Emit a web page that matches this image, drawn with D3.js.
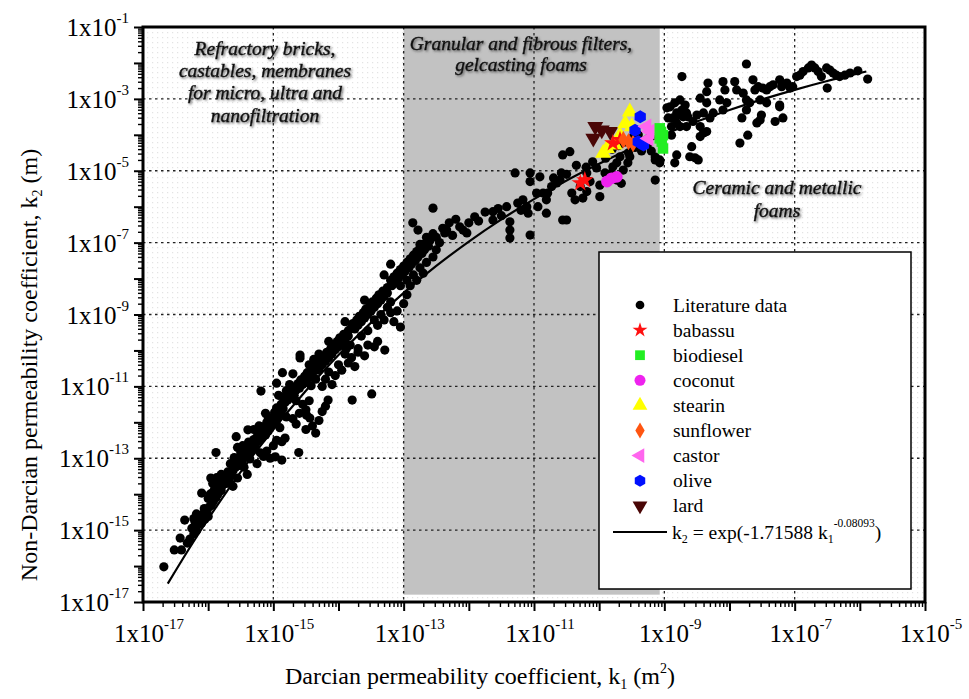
<!DOCTYPE html>
<html><head><meta charset="utf-8">
<script src="https://cdn.jsdelivr.net/npm/d3@7"></script>
<style>html,body{margin:0;padding:0;background:#fff;} svg{display:block;} svg text{font-family:"Liberation Serif","Times New Roman",serif;}</style>
</head><body><svg id="c" width="969" height="699"></svg>
<script>
// ---------- DATA (log10 values) ----------
const xTickExps = [-17,-15,-13,-11,-9,-7,-5];
const yTickExps = [-17,-15,-13,-11,-9,-7,-5,-3,-1];
const grayK1 = [1e-13, 8.5e-10];
const grayK2 = [1.6e-17, 1e-1];

const literatureLog = [
[-16.68,-16.02],[-16.52,-15.55],[-16.41,-15.55],[-16.43,-15.22],[-16.32,-15.36],[-16.36,-14.72],[-16.10,-13.97],[-15.88,-12.84],[-15.87,-13.54],
[-15.57,-12.40],[-15.39,-12.21],[-15.22,-12.10],[-15.19,-11.13],[-14.95,-10.91],[-14.86,-10.62],[-14.70,-10.65],[-14.59,-10.13],[-14.59,-10.21],
[-14.87,-12.54],[-14.82,-12.44],[-14.61,-12.84],[-14.97,-12.96],[-14.87,-13.05],[-14.16,-11.38],[-13.79,-11.38],[-13.49,-11.21],[-13.29,-9.99],
[-14.49,-11.80],[-14.44,-11.88],
[-16.28,-15.25],[-16.22,-15.10],[-16.25,-14.95],[-16.18,-15.02],[-16.15,-14.85],[-16.20,-14.78],[-16.10,-14.80],[-16.12,-14.65],[-16.05,-14.70],
[-16.08,-14.55],[-16.02,-14.48],[-16.15,-14.60],[-16.00,-14.62],[-16.06,-14.40],[-15.98,-14.35],[-16.18,-14.55],[-16.22,-14.68],
[-15.95,-14.30],[-15.92,-14.20],[-16.00,-14.12],[-15.88,-14.10],[-15.85,-14.00],[-15.93,-13.95],[-15.80,-13.90],[-15.88,-13.82],[-15.78,-13.75],
[-15.83,-13.65],[-15.72,-13.70],[-15.75,-13.55],[-15.68,-13.60],[-15.80,-13.45],[-15.65,-13.48],[-15.70,-13.38],[-15.90,-13.85],[-15.62,-13.78],
[-15.97,-14.00],[-15.93,-13.70],[-15.96,-13.55],
[-15.62,-13.35],[-15.58,-13.25],[-15.66,-13.15],[-15.52,-13.20],[-15.55,-13.05],[-15.48,-13.10],[-15.60,-12.98],[-15.45,-12.95],[-15.50,-12.85],
[-15.40,-12.90],[-15.42,-12.75],[-15.35,-12.80],[-15.47,-12.65],[-15.32,-12.62],[-15.38,-12.55],[-15.28,-12.70],[-15.55,-12.70],[-15.30,-12.48],
[-15.25,-12.55],[-15.36,-13.02],[-15.45,-13.25],[-15.10,-12.80],[-15.00,-12.65],[-14.95,-12.50],[-15.15,-12.95],
[-15.25,-12.40],[-15.18,-12.45],[-15.22,-12.30],[-15.12,-12.35],[-15.15,-12.20],[-15.08,-12.25],[-15.20,-12.12],[-15.05,-12.10],[-15.10,-12.00],
[-15.00,-12.05],[-15.02,-11.92],[-14.95,-11.95],[-15.08,-11.85],[-14.92,-11.80],[-14.98,-11.72],[-14.88,-11.70],[-14.95,-11.60],[-14.85,-11.62],
[-15.12,-11.75],[-14.80,-11.85],[-14.90,-12.15],[-15.30,-12.20],[-14.70,-11.90],[-14.60,-11.75],[-14.50,-11.65],[-14.65,-12.05],[-14.55,-11.50],[-14.45,-11.40],
[-14.88,-11.50],[-14.82,-11.45],[-14.78,-11.38],[-14.85,-11.30],[-14.72,-11.32],[-14.75,-11.20],[-14.68,-11.25],[-14.80,-11.12],[-14.65,-11.10],
[-14.70,-11.02],[-14.60,-11.05],[-14.62,-10.92],[-14.55,-10.95],[-14.58,-10.82],[-14.50,-10.85],[-14.52,-10.72],[-14.45,-10.75],[-14.48,-10.62],
[-14.40,-10.65],[-14.75,-10.95],[-14.42,-10.98],[-14.35,-10.80],[-14.65,-11.40],[-14.92,-11.25],
[-14.40,-10.50],[-14.35,-10.45],[-14.30,-10.55],[-14.32,-10.35],[-14.25,-10.40],[-14.28,-10.25],[-14.20,-10.30],[-14.22,-10.15],[-14.15,-10.20],
[-14.18,-10.05],[-14.10,-10.10],[-14.12,-9.95],[-14.05,-9.98],[-14.08,-9.85],[-14.00,-9.90],[-14.02,-9.75],[-13.95,-9.80],[-13.98,-9.65],
[-13.90,-9.70],[-13.92,-9.55],[-13.85,-9.60],[-14.30,-10.10],[-14.15,-9.75],[-13.88,-9.95],[-14.38,-10.25],[-14.45,-10.40],[-13.82,-9.85],
[-14.20,-10.80],[-14.05,-10.70],[-13.95,-10.55],[-14.10,-10.95],[-13.85,-10.35],[-13.80,-10.20],[-13.75,-10.45],[-14.00,-10.40],[-13.90,-10.10],
[-13.70,-10.05],[-14.25,-11.00],[-14.15,-10.60],[-13.70,-9.95],[-13.55,-9.85],[-13.45,-9.90],[-13.60,-10.15],[-13.40,-9.75],
[-13.85,-9.45],[-13.80,-9.35],[-13.75,-9.40],[-13.78,-9.25],[-13.70,-9.30],[-13.72,-9.15],[-13.65,-9.20],[-13.68,-9.05],[-13.60,-9.10],
[-13.62,-8.95],[-13.55,-9.00],[-13.58,-8.85],[-13.50,-8.90],[-13.52,-8.75],[-13.45,-8.80],[-13.48,-8.65],[-13.40,-8.70],[-13.42,-8.55],
[-13.35,-8.60],[-13.38,-8.45],[-13.30,-8.50],[-13.32,-8.35],[-13.25,-8.40],[-13.45,-9.15],[-13.35,-9.00],[-13.25,-8.80],[-13.20,-8.65],
[-13.60,-8.60],[-13.90,-9.20],[-13.10,-8.90],[-13.00,-8.70],[-12.95,-8.45],[-13.15,-9.20],[-13.05,-9.35],
[-13.25,-8.25],[-13.18,-8.20],[-13.20,-8.05],[-13.12,-8.10],[-13.15,-7.95],[-13.08,-8.00],[-13.10,-7.85],[-13.02,-7.90],[-13.05,-7.75],
[-12.98,-7.80],[-13.00,-7.65],[-12.92,-7.70],[-12.95,-7.55],[-12.88,-7.60],[-12.90,-7.45],[-12.82,-7.50],[-12.85,-7.35],[-12.78,-7.40],
[-12.80,-7.25],[-12.72,-7.30],[-12.75,-7.15],[-12.68,-7.20],[-12.70,-7.05],[-12.62,-7.10],[-13.05,-8.20],[-12.95,-8.05],[-12.85,-7.90],
[-12.75,-7.70],[-12.65,-7.55],[-13.30,-7.90],[-13.20,-7.60],
[-14.40,-12.10],[-14.30,-11.95],[-14.25,-11.70],[-14.35,-12.30],[-14.20,-11.55],[-14.50,-12.20],
[-15.20,-12.85],[-15.05,-13.00],[-15.25,-13.15],[-15.40,-13.45],[-15.55,-13.55],
[-13.65,-9.60],[-13.55,-9.45],[-13.40,-9.30],[-13.30,-9.15],[-13.20,-8.95],
[-12.90,-8.20],[-12.80,-8.05],[-12.70,-7.85],[-12.55,-7.40],[-12.50,-7.20],
[-12.78,-6.65],[-12.86,-6.45],[-12.55,-6.04],[-12.37,-6.73],[-12.34,-6.65],[-12.14,-6.56],[-12.09,-6.65],[-12.03,-6.73],[-11.91,-6.28],
[-11.63,-6.14],[-11.63,-6.37],[-11.42,-6.00],[-11.37,-6.42],[-11.37,-6.65],[-11.37,-6.87],[-11.17,-5.81],[-11.09,-6.18],[-11.11,-6.00],
[-11.06,-6.79],[-11.29,-5.06],[-11.06,-5.06],[-11.06,-5.30],[-10.91,-5.17],[-10.96,-5.62],[-10.86,-5.62],[-10.94,-6.00],[-10.81,-6.18],
[-10.79,-5.62],[-10.73,-5.44],[-10.65,-5.34],[-10.60,-5.26],[-10.81,-5.81],[-10.58,-5.06],[-10.56,-6.37],[-10.50,-6.37],[-10.56,-4.56],
[-10.45,-4.47],[-10.42,-5.62],[-10.37,-5.81],[-10.29,-5.44],[-10.19,-5.06],[-10.14,-5.30],[-10.19,-5.58],[-10.25,-5.76],[-10.04,-4.92],
[-9.99,-5.40],[-9.99,-5.72],[-9.91,-5.06],[-9.81,-5.06],[-9.79,-4.89],[-9.73,-4.78],[-9.68,-4.61],[-9.63,-4.98],[-9.56,-4.78],[-9.53,-4.61],
[-9.73,-5.26],[-9.66,-5.35],[-9.14,-4.70],[-9.14,-5.26],[-9.33,-4.23],[-9.27,-4.14],[-9.22,-4.05],
[-12.75,-7.05],[-12.60,-6.95],[-12.50,-6.85],[-12.45,-7.00],[-12.55,-6.75],[-12.65,-6.85],[-12.40,-6.60],[-12.30,-6.45],[-12.20,-6.35],
[-12.25,-6.80],[-12.00,-6.45],[-11.85,-6.40],[-11.75,-6.15],[-11.55,-6.05],[-11.50,-6.25],[-11.25,-5.90],[-11.20,-6.10],
[-9.80,-4.40],[-9.70,-4.30],[-9.60,-4.20],[-9.50,-4.10],[-9.40,-4.00],[-9.45,-4.35],[-9.35,-4.45],[-9.55,-4.50],[-9.25,-4.25],[-9.20,-4.45],
[-10.10,-4.75],[-10.20,-4.90],[-10.35,-4.85],[-10.50,-5.10],[-10.70,-5.20],[-9.90,-4.65],
[-8.73,-2.38],[-7.74,-2.03],[-8.91,-3.22],[-8.84,-3.11],[-8.76,-3.03],[-8.68,-3.17],[-8.73,-3.31],[-8.81,-3.39],[-8.71,-3.50],[-8.87,-3.53],
[-8.66,-3.39],[-8.96,-3.25],[-8.89,-3.77],[-8.76,-3.77],[-8.66,-3.77],[-8.81,-3.67],[-8.45,-2.98],[-8.35,-2.80],[-8.33,-2.56],[-8.35,-3.11],
[-8.10,-2.52],[-8.07,-2.75],[-7.92,-2.52],[-7.89,-2.75],[-8.15,-3.03],[-8.04,-3.11],[-8.10,-3.31],[-7.79,-2.84],[-7.74,-3.03],[-7.69,-3.11],
[-7.64,-2.47],[-7.61,-2.75],[-7.56,-2.66],[-7.49,-2.70],[-7.43,-2.75],[-7.38,-2.66],[-7.33,-2.61],[-7.23,-2.47],[-7.20,-2.66],[-7.12,-2.56],
[-7.07,-2.70],[-7.03,-2.66],[-7.53,-3.03],[-7.43,-3.11],[-7.23,-3.22],[-6.97,-2.38],[-6.92,-2.34],[-6.87,-2.24],[-6.79,-2.14],[-6.74,-2.06],
[-6.69,-2.14],[-6.64,-2.24],[-6.59,-2.38],[-6.51,-2.14],[-6.46,-2.20],[-6.41,-2.28],[-6.36,-2.34],[-6.31,-2.38],[-6.23,-2.34],[-6.15,-2.28],
[-6.03,-2.22],[-5.88,-2.45],[-6.50,-2.70],[-8.50,-3.45],[-8.40,-3.39],[-8.45,-3.77],[-8.30,-3.53],[-8.25,-3.39],[-8.40,-3.95],[-8.45,-4.05],
[-8.35,-3.91],[-7.74,-3.31],[-7.81,-3.53],[-7.51,-3.45],[-7.53,-3.59],[-7.58,-3.67],[-7.30,-3.63],[-7.18,-3.53],[-7.23,-3.17],[-7.84,-4.23],
[-7.72,-4.01],[-8.58,-4.33],[-8.61,-4.61],[-8.53,-4.64],[-8.48,-4.70],[-8.81,-4.56],[-8.84,-4.78],[-9.07,-4.78],[-8.89,-4.01],
[-8.76,-3.45],[-8.94,-3.53],[-8.56,-3.63],[-8.64,-3.50],[-9.14,-4.62],[-9.07,-4.70]
];

const babassuLog   = [[-9.68,-4.14],[-9.79,-4.23],[-10.22,-5.26],[-10.29,-5.34]];
const biodieselLog = [[-9.07,-3.82],[-9.02,-4.01],[-9.04,-4.19],[-9.02,-4.38],[-9.07,-4.10],[-9.05,-3.92]];
const coconutLog   = [[-9.88,-5.30],[-9.81,-5.21],[-9.73,-5.17]];
const stearinLog   = [[-9.53,-3.36],[-9.60,-3.68],[-9.50,-3.77],[-9.68,-4.01],[-9.76,-4.28],[-9.88,-4.38],[-9.94,-4.51]];
const sunflowerLog = [[-9.55,-4.19],[-9.48,-4.24],[-9.63,-4.14]];
const castorLog    = [[-9.27,-3.77],[-9.22,-3.91],[-9.24,-4.10]];
const oliveLog     = [[-9.37,-3.50],[-9.45,-3.87],[-9.32,-4.28],[-9.40,-4.19]];
const lardLog      = [[-10.06,-3.77],[-9.96,-3.87],[-9.83,-3.91],[-10.09,-4.10]];

// fitted curve k2 = exp(-1.71588 k1^-0.08093)
const fitLog = [[-16.62,-16.49],[-16.3,-15.54],[-16.0,-14.69],[-15.5,-13.38],[-15.0,-12.20],[-14.5,-11.12],[-14.0,-10.13],
[-13.5,-9.225],[-13.0,-8.40],[-12.5,-7.65],[-12.0,-6.97],[-11.5,-6.353],[-11.0,-5.79],[-10.5,-5.271],[-10.0,-4.805],
[-9.5,-4.376],[-9.0,-3.988],[-8.5,-3.632],[-8.0,-3.310],[-7.5,-3.015],[-7.0,-2.748],[-6.5,-2.502],[-6.0,-2.280],[-5.9,-2.237]];

const seriesNames  = ["Literature data","babassu","biodiesel","coconut","stearin","sunflower","castor","olive","lard"];
const seriesColors = ["#000000","#ff1010","#22ee22","#ee22ee","#ffff00","#ff5511","#ff66ee","#0010ff","#4a0606"];
const seriesShapes = ["circle","star","square","circle","triUp","diamond","triLeft","hexagon","triDown"];
const seriesData   = [literatureLog,babassuLog,biodieselLog,coconutLog,stearinLog,sunflowerLog,castorLog,oliveLog,lardLog];

const regionTexts = [
  {lines:["Refractory bricks,","castables, membranes","for micro, ultra and","nanofiltration"], cx:265, y0:55, dy:22.2},
  {lines:["Granular and fibrous filters,","gelcasting foams"], cx:521, y0:50, dy:21},
  {lines:["Ceramic and metallic","foams"], cx:777, y0:194, dy:23}
];

// ---------- DRAW ----------
const FONT = "'Liberation Serif','Times New Roman',serif";
const svg = d3.select("#c");
const plot = {l:143, r:925, t:27, b:602};
const x = d3.scaleLog().domain([1e-17,1e-5]).range([plot.l,plot.r]);
const y = d3.scaleLog().domain([1e-17,1e-1]).range([plot.b,plot.t]);
const P = v => Math.pow(10, v);

const defs = svg.append("defs");
const pat = defs.append("pattern").attr("id","dots").attr("width",5).attr("height",5).attr("patternUnits","userSpaceOnUse");
pat.append("rect").attr("width",5).attr("height",5).attr("fill","#fff");
pat.append("rect").attr("x",2).attr("y",2).attr("width",1.2).attr("height",1.2).attr("fill","#e3e3e3");
const flt = defs.append("filter").attr("id","shadow").attr("x","-10%").attr("y","-30%").attr("width","130%").attr("height","170%");
flt.append("feDropShadow").attr("dx",1.3).attr("dy",1.3).attr("stdDeviation",1).attr("flood-color","#555").attr("flood-opacity",0.9);

svg.append("rect").attr("x",plot.l).attr("y",plot.t).attr("width",plot.r-plot.l).attr("height",plot.b-plot.t).attr("fill","url(#dots)");
svg.append("rect").attr("x",x(grayK1[0])).attr("y",y(grayK2[1]))
  .attr("width",x(grayK1[1])-x(grayK1[0])).attr("height",y(grayK2[0])-y(grayK2[1])).attr("fill","#c2c2c2");

// grid
const gridX = xTickExps.slice(1,-1), gridY = yTickExps.slice(1,-1);
const grid = svg.append("g").attr("stroke","#222").attr("stroke-width",1.3).attr("stroke-dasharray","2.5,3.5");
grid.selectAll(".gx").data(gridX).join("line").attr("x1",d=>x(P(d))).attr("x2",d=>x(P(d))).attr("y1",plot.t).attr("y2",plot.b);
grid.selectAll(".gy").data(gridY).join("line").attr("y1",d=>y(P(d))).attr("y2",d=>y(P(d))).attr("x1",plot.l).attr("x2",plot.r);

// region annotations
regionTexts.forEach(r=>{
  const t = svg.append("text").attr("font-family",FONT).attr("font-style","italic").attr("font-size",19.5).attr("text-anchor","middle")
    .attr("fill","#111").attr("stroke","#111").attr("stroke-width",0.45).attr("filter","url(#shadow)");
  r.lines.forEach((s,i)=>t.append("tspan").attr("x",r.cx).attr("y",r.y0+i*r.dy).text(s));
});

// symbols
function shapePath(shape, s){
  switch(shape){
    case "circle": return d3.symbol(d3.symbolCircle, s)();
    case "star": return d3.symbol(d3.symbolStar, s)();
    case "square": return d3.symbol(d3.symbolSquare, s)();
    case "diamond": return d3.symbol(d3.symbolDiamond, s*0.8)();
    case "triUp": case "triLeft": case "triDown": return d3.symbol(d3.symbolTriangle, s)();
    case "hexagon": {
      const r = Math.sqrt(s/2.598);
      return "M" + d3.range(6).map(k=>{const a=Math.PI/6+k*Math.PI/3; return [r*Math.cos(a), r*Math.sin(a)].join(",");}).join("L")+"Z";
    }
  }
}
const rot = {triLeft:-90, triDown:180};

// literature + fit line
const lit = svg.append("g");
lit.selectAll("circle").data(literatureLog).join("circle")
  .attr("cx",d=>x(P(d[0]))).attr("cy",d=>y(P(d[1]))).attr("r",4.6).attr("fill","#000");

const line = d3.line().x(d=>x(P(d[0]))).y(d=>y(P(d[1]))).curve(d3.curveMonotoneX);
svg.append("path").datum(fitLog).attr("d",line).attr("fill","none").attr("stroke","#000").attr("stroke-width",2.2);

// colored series (draw order)
const order = [8,4,1,5,7,6,2,3];
order.forEach(i=>{
  svg.append("g").selectAll("path").data(seriesData[i]).join("path")
    .attr("d", shapePath(seriesShapes[i], seriesShapes[i]==="star"?95:110))
    .attr("transform", d=>`translate(${x(P(d[0]))},${y(P(d[1]))}) rotate(${rot[seriesShapes[i]]||0})`)
    .attr("fill", seriesColors[i]);
});

// legend
const lg = svg.append("g");
lg.append("rect").attr("x",599).attr("y",252).attr("width",312).attr("height",337).attr("fill","#fff").attr("stroke","#000").attr("stroke-width",1.5);
seriesNames.forEach((n,i)=>{
  const cy = 305 + i*25.1;
  const sz = i===0 ? 60 : (seriesShapes[i]==="star" ? 70 : 95);
  lg.append("path").attr("d", shapePath(seriesShapes[i], sz))
    .attr("transform",`translate(640,${cy}) rotate(${rot[seriesShapes[i]]||0})`).attr("fill",seriesColors[i]);
  lg.append("text").attr("font-family",FONT).attr("x",673).attr("y",cy+6.5).attr("font-size",19.5).attr("fill","#000").text(n);
});
lg.append("line").attr("x1",613).attr("x2",667).attr("y1",532).attr("y2",532).attr("stroke","#000").attr("stroke-width",2);
const eq = lg.append("text").attr("font-family",FONT).attr("x",672).attr("y",539).attr("font-size",19.5);
eq.append("tspan").text("k");
eq.append("tspan").attr("font-size",12).attr("dy",4).text("2");
eq.append("tspan").attr("dy",-4).text(" = exp(-1.71588 k");
eq.append("tspan").attr("font-size",12).attr("dy",4).text("1");
eq.append("tspan").attr("font-size",11.5).attr("dy",-16).text("-0.08093");
eq.append("tspan").attr("dy",12).text(")");

// frame
svg.append("rect").attr("x",plot.l).attr("y",plot.t).attr("width",plot.r-plot.l).attr("height",plot.b-plot.t)
  .attr("fill","none").attr("stroke","#000").attr("stroke-width",3);

// axes ticks
const majX = d3.range(-17,-4).map(P), majY = d3.range(-17,0).map(P);
const minX = [], minY = [];
d3.range(-17,-5).forEach(e=>{for(let m=2;m<=9;m++) minX.push(m*P(e));});
d3.range(-17,-1).forEach(e=>{for(let m=2;m<=9;m++) minY.push(m*P(e));});
function styleAxis(g, w){ g.select(".domain").remove(); g.selectAll("line").attr("stroke","#000").attr("stroke-width",w); g.selectAll("text").remove(); }
svg.append("g").attr("transform",`translate(0,${plot.b})`).call(d3.axisBottom(x).tickValues(minX).tickSize(5)).call(g=>styleAxis(g,1.4));
svg.append("g").attr("transform",`translate(0,${plot.b})`).call(d3.axisBottom(x).tickValues(majX).tickSize(9)).call(g=>styleAxis(g,2));
svg.append("g").attr("transform",`translate(${plot.l},0)`).call(d3.axisLeft(y).tickValues(minY).tickSize(5)).call(g=>styleAxis(g,1.4));
svg.append("g").attr("transform",`translate(${plot.l},0)`).call(d3.axisLeft(y).tickValues(majY).tickSize(9)).call(g=>styleAxis(g,2));

// tick labels
xTickExps.forEach(e=>{
  const t = svg.append("text").attr("font-family",FONT).attr("x",x(P(e))+6).attr("y",642).attr("text-anchor","middle").attr("font-size",25);
  t.append("tspan").text("1x10");
  t.append("tspan").attr("font-size",15).attr("dy",-13).text(e);
});
yTickExps.forEach(e=>{
  const t = svg.append("text").attr("font-family",FONT).attr("x",129).attr("y",y(P(e))+9).attr("text-anchor","end").attr("font-size",25);
  t.append("tspan").text("1x10");
  t.append("tspan").attr("font-size",15).attr("dy",-13).text(e);
});

// axis titles
const xt = svg.append("text").attr("font-family",FONT).attr("x",480).attr("y",684).attr("text-anchor","middle").attr("font-size",24);
xt.append("tspan").text("Darcian permeability coefficient, k");
xt.append("tspan").attr("font-size",14).attr("dy",5).text("1");
xt.append("tspan").attr("dy",-5).text(" (m");
xt.append("tspan").attr("font-size",14).attr("dy",-11).text("2");
xt.append("tspan").attr("dy",11).text(")");

const yt = svg.append("text").attr("font-family",FONT).attr("transform","translate(37,365) rotate(-90)").attr("text-anchor","middle").attr("font-size",24);
yt.append("tspan").text("Non-Darcian permeability coefficient, k");
yt.append("tspan").attr("font-size",14).attr("dy",5).text("2");
yt.append("tspan").attr("dy",-5).text(" (m)");
</script>
</body></html>
